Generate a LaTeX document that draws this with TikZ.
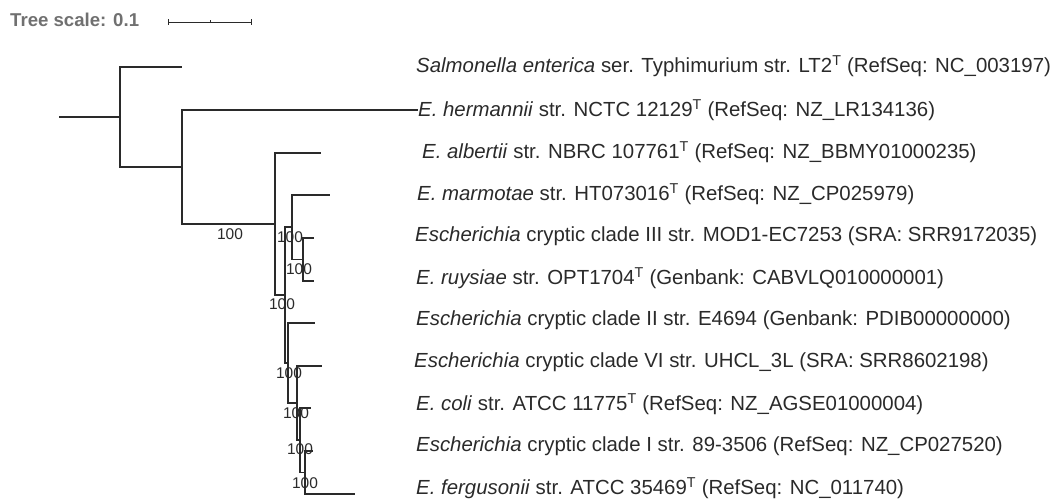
\documentclass[tikz,border=0pt]{standalone}
\usepackage{fontspec}
\setmainfont{Liberation Sans}
\definecolor{ink}{HTML}{2A2A2A}
\definecolor{scalegray}{HTML}{707070}

\begin{document}
\begin{tikzpicture}[x=1pt,y=-1pt,
  branch/.style={draw=ink,line width=1.1pt},
  leaf/.style={anchor=west,inner sep=0pt,text=ink,
    font=\fontsize{20.4}{22}\selectfont},
  boot/.style={inner sep=0pt,text=ink,font=\fontsize{15.5}{17}\selectfont}]
  \useasboundingbox (0,0) rectangle (1057,502);
  % scale bar
  \node[anchor=west,inner sep=0pt,text=scalegray,
        font=\bfseries\fontsize{18.6}{20}\selectfont] (scale) at (10,20)
    {Tree scale: 0.1};
  \coordinate (barL) at (168,22);
  \coordinate (barM) at (210,22);
  \coordinate (barR) at (251,22);
  \draw[ink,line width=.8pt] (barL) -- (barR);
  \draw[ink,line width=.8pt] ([yshift=-3pt]barL) -- ([yshift=3pt]barL);
  \draw[ink,line width=.8pt] ([yshift=-3pt]barR) -- ([yshift=3pt]barR);
  \draw[ink,line width=.6pt] (barM) -- ([yshift=1.5pt]barM);
  % internal nodes
  \coordinate (root) at (59,117);
  \coordinate (nB) at (120,117);
  \coordinate (nC) at (182,167);
  \coordinate (nD) at (275,224);
  \coordinate (nE) at (285,295);
  \coordinate (nF) at (292,227);
  \coordinate (nH) at (303,259.5);
  \coordinate (nG) at (288,363);
  \coordinate (nI) at (297,403);
  \coordinate (nJ) at (300,440);
  \coordinate (nK) at (305,472.5);
  % leaf tips
  \coordinate (sal) at (182,67);
  \coordinate (alb) at (321,153);
  \coordinate (mar) at (330,195);
  \coordinate (cIII) at (314,238);
  \coordinate (ruy) at (314,281);
  \coordinate (cII) at (315,323);
  \coordinate (cVI) at (322,366);
  \coordinate (col) at (311,408);
  \coordinate (cI) at (313,451);
  \coordinate (fer) at (355,494);
  % labels
  \node[leaf] (tSal) at (416,66) {\textit{Salmonella enterica} ser. Typhimurium str. LT2\textsuperscript{T} (RefSeq: NC\_003197)};
  \node[leaf] (tHer) at (418,110) {\textit{E. hermannii} str. NCTC 12129\textsuperscript{T} (RefSeq: NZ\_LR134136)};
  \node[leaf] (tAlb) at (422,152) {\textit{E. albertii} str. NBRC 107761\textsuperscript{T} (RefSeq: NZ\_BBMY01000235)};
  \node[leaf] (tMar) at (417,194) {\textit{E. marmotae} str. HT073016\textsuperscript{T} (RefSeq: NZ\_CP025979)};
  \node[leaf] (tIII) at (415,236) {\textit{Escherichia} cryptic clade III str. MOD1-EC7253 (SRA: SRR9172035)};
  \node[leaf] (tRuy) at (416,278) {\textit{E. ruysiae} str. OPT1704\textsuperscript{T} (Genbank: CABVLQ010000001)};
  \node[leaf] (tII) at (416,320) {\textit{Escherichia} cryptic clade II str. E4694 (Genbank: PDIB00000000)};
  \node[leaf] (tVI) at (414,362) {\textit{Escherichia} cryptic clade VI str. UHCL\_3L (SRA: SRR8602198)};
  \node[leaf] (tCol) at (416,404) {\textit{E. coli} str. ATCC 11775\textsuperscript{T} (RefSeq: NZ\_AGSE01000004)};
  \node[leaf] (tI) at (416,446) {\textit{Escherichia} cryptic clade I str. 89-3506 (RefSeq: NZ\_CP027520)};
  \node[leaf] (tFer) at (416,488) {\textit{E. fergusonii} str. ATCC 35469\textsuperscript{T} (RefSeq: NC\_011740)};
  % branches
  \draw[branch] (root) -- (nB);
  \draw[branch] (nB) |- (sal);
  \draw[branch] (nB) |- (nC);
  \draw[branch] (nC) |- (tHer.west);
  \draw[branch] (nC) |- (nD);
  \draw[branch] (nD) |- (alb);
  \draw[branch] (nD) |- (nE);
  \draw[branch] (nE) |- (nF);
  \draw[branch] (nE) |- (nG);
  \draw[branch] (nF) |- (mar);
  \draw[branch] (nF) |- (nH);
  \draw[branch] (nH) |- (cIII);
  \draw[branch] (nH) |- (ruy);
  \draw[branch] (nG) |- (cII);
  \draw[branch] (nG) |- (nI);
  \draw[branch] (nI) |- (cVI);
  \draw[branch] (nI) |- (nJ);
  \draw[branch] (nJ) |- (col);
  \draw[branch] (nJ) |- (nK);
  \draw[branch] (nK) |- (cI);
  \draw[branch] (nK) |- (fer);
  % bootstrap values
  \foreach \n/\x/\y in {D/230/234,F/290/237,H/299/269,E/282/304,
                        G/289/373,I/296/413,J/300/449,K/305/483}
    \node[boot] (b\n) at (\x,\y) {100};
\end{tikzpicture}
\end{document}
